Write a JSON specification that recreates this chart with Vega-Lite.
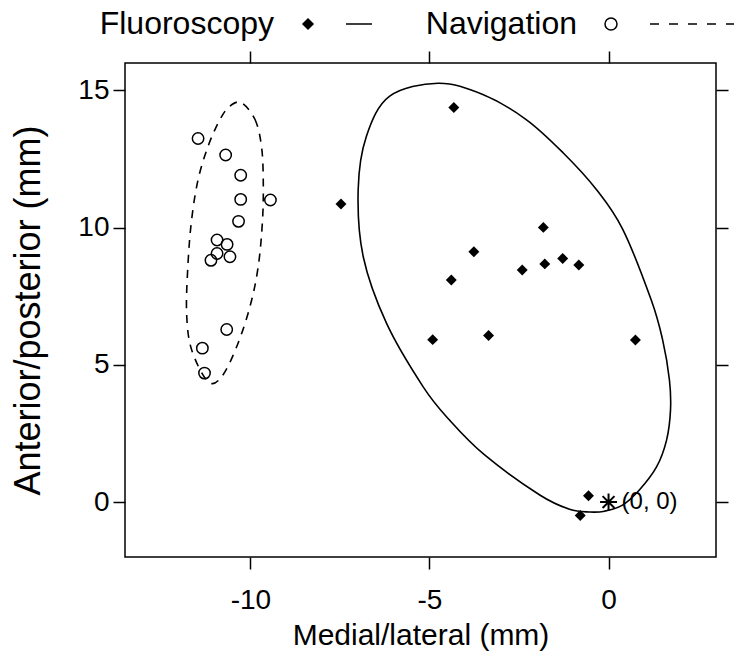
{
  "$schema": "https://vega.github.io/schema/vega-lite/v6.json",
  "width": 591,
  "height": 494,
  "autosize": {"type": "none"},
  "padding": {"left": 125, "top": 63, "right": 18, "bottom": 103},
  "background": "white",
  "config": {
    "view": {"stroke": "black", "strokeWidth": 1.5},
    "font": "Liberation Sans, Arial, Helvetica",
    "axis": {
      "domain": false,
      "grid": false,
      "ticks": true,
      "tickColor": "black",
      "tickSize": 12,
      "tickWidth": 1.5,
      "labelColor": "black",
      "labelFont": "Liberation Sans, Arial, Helvetica",
      "labelFontSize": 28,
      "titleColor": "black",
      "titleFont": "Liberation Sans, Arial, Helvetica",
      "titleFontWeight": "normal"
    },
    "legend": {
      "labelFont": "Liberation Sans, Arial, Helvetica",
      "labelColor": "black"
    }
  },
  "datasets": {
    "points": [
      {"method": "Navigation", "x": -11.46, "y": 13.25},
      {"method": "Navigation", "x": -10.69, "y": 12.65},
      {"method": "Navigation", "x": -10.27, "y": 11.91},
      {"method": "Navigation", "x": -10.27, "y": 11.03},
      {"method": "Navigation", "x": -9.44, "y": 11.01},
      {"method": "Navigation", "x": -10.33, "y": 10.23},
      {"method": "Navigation", "x": -10.93, "y": 9.55},
      {"method": "Navigation", "x": -10.65, "y": 9.39},
      {"method": "Navigation", "x": -10.93, "y": 9.06},
      {"method": "Navigation", "x": -11.10, "y": 8.81},
      {"method": "Navigation", "x": -10.57, "y": 8.94},
      {"method": "Navigation", "x": -10.66, "y": 6.29},
      {"method": "Navigation", "x": -11.34, "y": 5.61},
      {"method": "Navigation", "x": -11.28, "y": 4.70},
      {"method": "Fluoroscopy", "x": -4.32, "y": 14.38},
      {"method": "Fluoroscopy", "x": -7.47, "y": 10.86},
      {"method": "Fluoroscopy", "x": -1.82, "y": 10.01},
      {"method": "Fluoroscopy", "x": -3.76, "y": 9.12},
      {"method": "Fluoroscopy", "x": -2.41, "y": 8.46},
      {"method": "Fluoroscopy", "x": -1.78, "y": 8.68},
      {"method": "Fluoroscopy", "x": -1.28, "y": 8.88},
      {"method": "Fluoroscopy", "x": -0.83, "y": 8.64},
      {"method": "Fluoroscopy", "x": -4.39, "y": 8.09},
      {"method": "Fluoroscopy", "x": -4.91, "y": 5.92},
      {"method": "Fluoroscopy", "x": -3.35, "y": 6.07},
      {"method": "Fluoroscopy", "x": 0.75, "y": 5.91},
      {"method": "Fluoroscopy", "x": -0.56, "y": 0.23},
      {"method": "Fluoroscopy", "x": -0.79, "y": -0.49}
    ],
    "ellipses": [
      {"method": "Fluoroscopy", "order": 1, "x": -4.76, "y": 15.26},
      {"method": "Fluoroscopy", "order": 2, "x": -3.51, "y": 14.85},
      {"method": "Fluoroscopy", "order": 3, "x": -2.30, "y": 13.94},
      {"method": "Fluoroscopy", "order": 4, "x": -1.27, "y": 12.73},
      {"method": "Fluoroscopy", "order": 5, "x": -0.34, "y": 11.39},
      {"method": "Fluoroscopy", "order": 6, "x": 0.40, "y": 9.93},
      {"method": "Fluoroscopy", "order": 7, "x": 1.19, "y": 7.37},
      {"method": "Fluoroscopy", "order": 8, "x": 1.51, "y": 5.91},
      {"method": "Fluoroscopy", "order": 9, "x": 1.70, "y": 4.45},
      {"method": "Fluoroscopy", "order": 10, "x": 1.73, "y": 3.36},
      {"method": "Fluoroscopy", "order": 11, "x": 1.62, "y": 2.26},
      {"method": "Fluoroscopy", "order": 12, "x": 1.34, "y": 1.28},
      {"method": "Fluoroscopy", "order": 13, "x": 0.86, "y": 0.44},
      {"method": "Fluoroscopy", "order": 14, "x": 0.39, "y": -0.11},
      {"method": "Fluoroscopy", "order": 15, "x": -0.11, "y": -0.33},
      {"method": "Fluoroscopy", "order": 16, "x": -0.53, "y": -0.36},
      {"method": "Fluoroscopy", "order": 17, "x": -1.09, "y": -0.26},
      {"method": "Fluoroscopy", "order": 18, "x": -1.92, "y": 0.26},
      {"method": "Fluoroscopy", "order": 19, "x": -3.46, "y": 1.72},
      {"method": "Fluoroscopy", "order": 20, "x": -4.44, "y": 2.99},
      {"method": "Fluoroscopy", "order": 21, "x": -5.18, "y": 4.21},
      {"method": "Fluoroscopy", "order": 22, "x": -6.20, "y": 6.52},
      {"method": "Fluoroscopy", "order": 23, "x": -6.85, "y": 8.95},
      {"method": "Fluoroscopy", "order": 24, "x": -6.99, "y": 11.39},
      {"method": "Fluoroscopy", "order": 25, "x": -6.76, "y": 13.33},
      {"method": "Fluoroscopy", "order": 26, "x": -6.11, "y": 14.79},
      {"method": "Navigation", "order": 1, "x": -10.25, "y": 14.55},
      {"method": "Navigation", "order": 2, "x": -9.87, "y": 13.94},
      {"method": "Navigation", "order": 3, "x": -9.69, "y": 12.97},
      {"method": "Navigation", "order": 4, "x": -9.64, "y": 11.75},
      {"method": "Navigation", "order": 5, "x": -9.66, "y": 10.29},
      {"method": "Navigation", "order": 6, "x": -9.78, "y": 8.59},
      {"method": "Navigation", "order": 7, "x": -10.01, "y": 7.13},
      {"method": "Navigation", "order": 8, "x": -10.38, "y": 5.67},
      {"method": "Navigation", "order": 9, "x": -10.80, "y": 4.57},
      {"method": "Navigation", "order": 10, "x": -11.18, "y": 4.39},
      {"method": "Navigation", "order": 11, "x": -11.64, "y": 5.55},
      {"method": "Navigation", "order": 12, "x": -11.78, "y": 6.89},
      {"method": "Navigation", "order": 13, "x": -11.74, "y": 8.71},
      {"method": "Navigation", "order": 14, "x": -11.64, "y": 10.29},
      {"method": "Navigation", "order": 15, "x": -11.46, "y": 11.75},
      {"method": "Navigation", "order": 16, "x": -11.18, "y": 12.97},
      {"method": "Navigation", "order": 17, "x": -10.85, "y": 13.94},
      {"method": "Navigation", "order": 18, "x": -10.57, "y": 14.43}
    ],
    "origin": [{"x": 0, "y": 0, "label": "(0, 0)"}]
  },
  "resolve": {"axis": {"x": "independent", "y": "independent"}},
  "layer": [
    {
      "data": {"name": "ellipses"},
      "transform": [{"filter": "datum.method === 'Fluoroscopy'"}],
      "mark": {"type": "line", "interpolate": "cardinal-closed", "color": "black", "strokeWidth": 1.6},
      "encoding": {
        "x": {"field": "x", "type": "quantitative", "scale": {"domain": [-13.5, 3.0], "nice": false, "zero": false},
              "axis": {"orient": "bottom", "values": [-10, -5, 0], "labelExpr": "'' + datum.value", "labelPadding": 17, "title": "Medial/lateral (mm)", "titleFontSize": 30, "titlePadding": 6}},
        "y": {"field": "y", "type": "quantitative", "scale": {"domain": [-2.0, 16.0], "nice": false, "zero": false},
              "axis": {"orient": "left", "values": [0, 5, 10, 15], "labelExpr": "'' + datum.value", "labelPadding": 4, "title": "Anterior/posterior (mm)", "titleFontSize": 36, "titlePadding": 30}},
        "order": {"field": "order", "type": "quantitative"}
      }
    },
    {
      "data": {"name": "ellipses"},
      "transform": [{"filter": "datum.method === 'Navigation'"}],
      "mark": {"type": "line", "interpolate": "cardinal-closed", "color": "black", "strokeWidth": 1.6, "strokeDash": [8, 7]},
      "encoding": {
        "x": {"field": "x", "type": "quantitative", "axis": {"orient": "top", "values": [-10, -5, 0], "labels": false, "title": null}},
        "y": {"field": "y", "type": "quantitative", "axis": {"orient": "right", "values": [0, 5, 10, 15], "labels": false, "title": null}},
        "order": {"field": "order", "type": "quantitative"}
      }
    },
    {
      "data": {"name": "points"},
      "transform": [{"filter": "datum.method === 'Fluoroscopy'"}],
      "mark": {"type": "point", "shape": "diamond", "filled": true, "color": "black", "opacity": 1, "size": 120},
      "encoding": {
        "x": {"field": "x", "type": "quantitative", "axis": null},
        "y": {"field": "y", "type": "quantitative", "axis": null}
      }
    },
    {
      "data": {"name": "points"},
      "transform": [{"filter": "datum.method === 'Navigation'"}],
      "mark": {"type": "point", "shape": "circle", "filled": false, "color": "black", "strokeWidth": 1.5, "opacity": 1, "size": 130},
      "encoding": {
        "x": {"field": "x", "type": "quantitative", "axis": null},
        "y": {"field": "y", "type": "quantitative", "axis": null}
      }
    },
    {
      "data": {"name": "points"},
      "mark": {"type": "point", "opacity": 0, "size": 100},
      "encoding": {
        "x": {"field": "x", "type": "quantitative", "axis": null},
        "y": {"field": "y", "type": "quantitative", "axis": null},
        "shape": {"field": "method", "type": "nominal",
                  "scale": {"domain": ["Fluoroscopy", "Navigation"],
                            "range": ["M 0 -1 L 1 0 L 0 1 L -1 0 Z M 7.6 0 L 12.8 0",
                                      "M 1.2 0 A 1.2 1.2 0 1 1 -1.2 0 A 1.2 1.2 0 1 1 1.2 0 Z M 7.8 0 L 9.6 0 M 11.6 0 L 13.4 0 M 15.4 0 L 17.2 0 M 19.2 0 L 21 0 M 23 0 L 24.8 0"]},
                  "legend": {
                    "orient": "none", "legendX": 167, "legendY": -55,
                    "direction": "horizontal", "columns": 2, "title": null,
                    "labelFontSize": 32, "labelLimit": 600, "labelAlign": "right", "labelOffset": -50,
                    "symbolSize": 100, "symbolStrokeWidth": 1.5, "symbolOpacity": 1,
                    "columnPadding": 50
                  }},
        "fill": {"field": "method", "type": "nominal",
                 "scale": {"domain": ["Fluoroscopy", "Navigation"], "range": ["black", "transparent"]}},
        "stroke": {"field": "method", "type": "nominal",
                   "scale": {"domain": ["Fluoroscopy", "Navigation"], "range": ["black", "black"]}}
      }
    },
    {
      "data": {"name": "origin"},
      "mark": {"type": "point", "shape": "M -1 0 L 1 0 M 0 -1 L 0 1 M -0.7 -0.7 L 0.7 0.7 M -0.7 0.7 L 0.7 -0.7", "size": 289, "stroke": "black", "strokeWidth": 2, "fill": null, "opacity": 1},
      "encoding": {
        "x": {"field": "x", "type": "quantitative", "axis": null},
        "y": {"field": "y", "type": "quantitative", "axis": null}
      }
    },
    {
      "data": {"name": "origin"},
      "mark": {"type": "text", "align": "left", "baseline": "middle", "dx": 13, "fontSize": 24, "color": "black", "font": "Liberation Sans, Arial, Helvetica"},
      "encoding": {
        "x": {"field": "x", "type": "quantitative", "axis": null},
        "y": {"field": "y", "type": "quantitative", "axis": null},
        "text": {"field": "label"}
      }
    }
  ]
}
